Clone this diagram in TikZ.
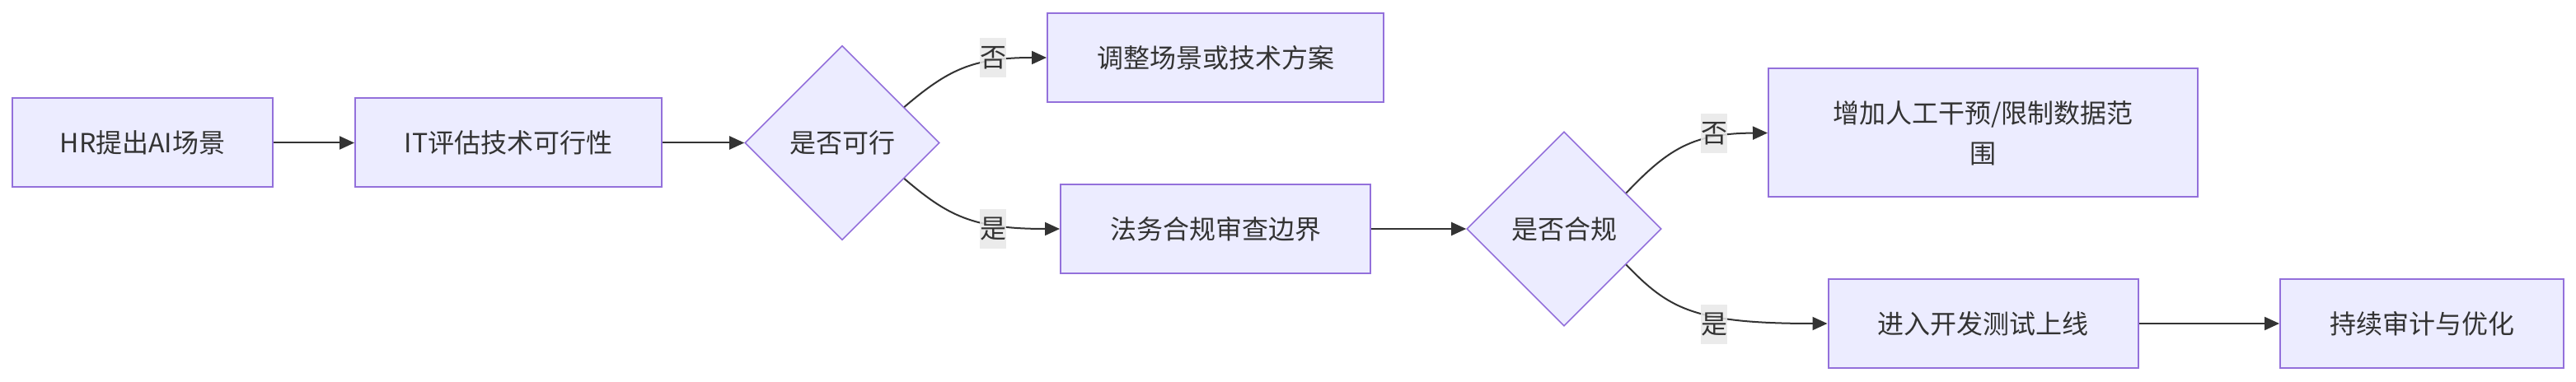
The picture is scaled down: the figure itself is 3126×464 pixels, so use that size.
\documentclass[tikz,border=0pt]{standalone}
\usepackage{fontspec}
\setmainfont{Noto Sans CJK SC}
\usetikzlibrary{shapes.geometric,arrows.meta}
\definecolor{nodefill}{HTML}{ECECFF}
\definecolor{nodestroke}{HTML}{9370DB}
\definecolor{txt}{HTML}{333333}
\definecolor{lblbg}{HTML}{E8E8E8}
\tikzset{
  box/.style={rectangle, draw=nodestroke, fill=nodefill, line width=1pt, text=txt, inner sep=0pt, align=center, font=\fontsize{16}{24.5}\selectfont},
  decide/.style={diamond, aspect=1, draw=nodestroke, fill=nodefill, line width=0.8pt, text=txt, inner sep=0pt, minimum width=118pt, minimum height=118pt, font=\fontsize{16}{20}\selectfont},
  edge/.style={draw=txt, line width=1pt, -{Triangle[length=9pt,width=8pt]}},
  lbl/.style={fill=lblbg, fill opacity=0.85, text opacity=1, text=txt, inner sep=0pt, minimum width=15pt, minimum height=24pt, font=\fontsize{16}{20}\selectfont}
}
\begin{document}
\begin{tikzpicture}[x=0.5pt,y=-0.5pt]
\useasboundingbox[fill=white] (0,0) rectangle (3126,464);
\node[box, minimum width=158pt, minimum height=54pt] (A) at (173,173.5) {HR提出AI场景};
\node[box, minimum width=186pt, minimum height=54pt] (B) at (617,173.5) {IT评估技术可行性};
\node[decide] (C) at (1022,173.5) {是否可行};
\node[box, minimum width=204pt, minimum height=54pt] (D) at (1475,70) {调整场景或技术方案};
\node[box, minimum width=188pt, minimum height=54pt] (E) at (1475,278) {法务合规审查边界};
\node[decide] (F) at (1898,278) {是否合规};
\node[box, minimum width=260.5pt, minimum height=78pt] (G) at (2406.5,161.5) {增加人工干预/限制数据范\\围};
\node[box, minimum width=188pt, minimum height=54pt] (H) at (2406.5,393) {进入开发测试上线};
\node[box, minimum width=172pt, minimum height=54pt] (I) at (2939,393) {持续审计与优化};

\draw[edge] (A.east) -- (B.west);
\draw[edge] (B.east) -- (C.west);
\draw[edge] (C.30) .. controls (1150,85) and (1180,70) .. (D.west);
\draw[edge] (C.-30) .. controls (1150,262) and (1180,278) .. (E.west);
\draw[edge] (E.east) -- (F.west);
\draw[edge] (F.30) .. controls (2025,180) and (2055,162) .. (G.west);
\draw[edge] (F.-30) .. controls (2025,375) and (2055,393) .. (H.west);
\draw[edge] (H.east) -- (I.west);

\node[lbl] (l1) at (1205,70) {否};
\node[lbl] (l2) at (1205,278) {是};
\node[lbl] (l3) at (2080,162) {否};
\node[lbl] (l4) at (2080,394) {是};
\end{tikzpicture}
\end{document}
